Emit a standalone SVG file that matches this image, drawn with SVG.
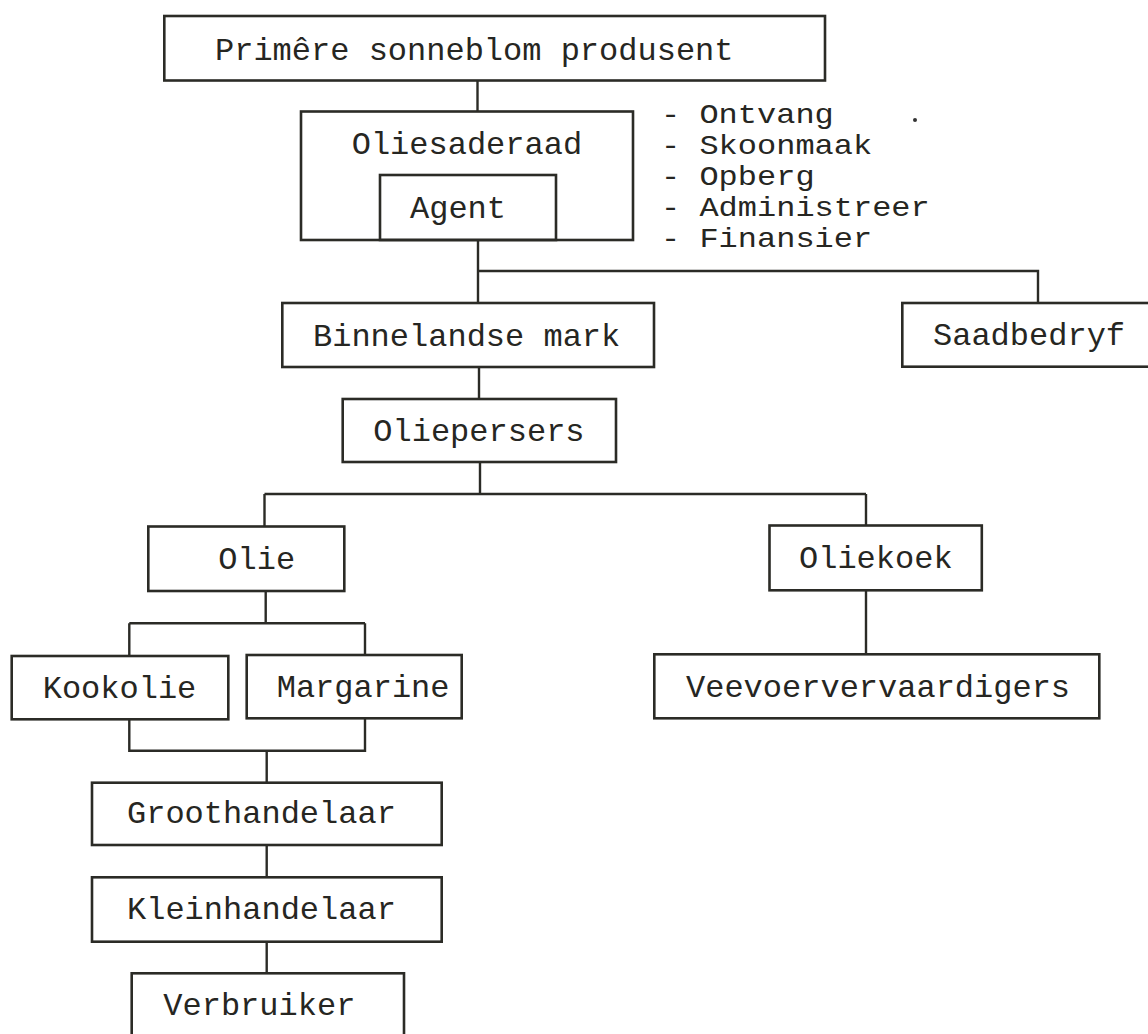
<svg xmlns="http://www.w3.org/2000/svg" width="1148" height="1034" viewBox="0 0 1148 1034">
<style>
.box{fill:none;stroke:#2b2b26;stroke-width:2.6}
.ln{fill:none;stroke:#2b2b26;stroke-width:2.4}
text{font-family:"Liberation Mono","Courier New",monospace;font-size:32px;fill:#262622}
</style>
<rect width="1148" height="1034" fill="#ffffff"/>
<g id="connectors">
<path class="ln" d="M477.5,80 V112"/>
<path class="ln" d="M478,240 V303 M478,271 H1038 V303"/>
<path class="ln" d="M479,367 V399"/>
<path class="ln" d="M480,462 V494 M264.5,494 H866 M264.5,494 V526.5 M866,494 V525.5"/>
<path class="ln" d="M265.7,591 V623.3 M129.3,623.3 H365 M129.3,623.3 V656 M365,623.3 V655"/>
<path class="ln" d="M129.3,719.3 V750.7 H365 V718.3 M266.7,750.7 V782.7"/>
<path class="ln" d="M866,590.3 V654.3"/>
<path class="ln" d="M266.7,845 V877.3"/>
<path class="ln" d="M266.7,941.7 V973.3"/>
</g>
<g id="n-produsent">
<rect class="box" x="164.3" y="16" width="660.7" height="64.5"/>
<text x="215" y="60">Primêre sonneblom produsent</text>
</g>
<g id="n-oliesaderaad">
<rect class="box" x="301" y="111.5" width="332" height="128.5"/>
<text x="351.7" y="154">Oliesaderaad</text>
</g>
<g id="n-agent">
<rect class="box" x="380" y="175" width="176" height="65"/>
<text x="410" y="218">Agent</text>
</g>
<g id="n-funksies">
<text transform="translate(661,123) scale(1,0.85)">- Ontvang</text>
<text transform="translate(661,154) scale(1,0.85)">- Skoonmaak</text>
<text transform="translate(661,185) scale(1,0.85)">- Opberg</text>
<text transform="translate(661,216) scale(1,0.85)">- Administreer</text>
<text transform="translate(661,247) scale(1,0.85)">- Finansier</text>
<circle cx="915" cy="120" r="2" fill="#333"/>
</g>
<g id="n-binnelandse">
<rect class="box" x="282.3" y="303" width="371.7" height="64"/>
<text x="313" y="346">Binnelandse mark</text>
</g>
<g id="n-saadbedryf">
<rect class="box" x="902.3" y="303" width="260" height="63.7"/>
<text x="933" y="345">Saadbedryf</text>
</g>
<g id="n-oliepersers">
<rect class="box" x="342.7" y="399" width="273.3" height="63"/>
<text x="373.3" y="441">Oliepersers</text>
</g>
<g id="n-olie">
<rect class="box" x="148.3" y="526.5" width="196" height="64.5"/>
<text x="218.3" y="569.3">Olie</text>
</g>
<g id="n-oliekoek">
<rect class="box" x="769.5" y="525.5" width="212.3" height="64.8"/>
<text x="799" y="568">Oliekoek</text>
</g>
<g id="n-kookolie">
<rect class="box" x="11.7" y="656" width="216.6" height="63.3"/>
<text x="42.7" y="698.3">Kookolie</text>
</g>
<g id="n-margarine">
<rect class="box" x="246.7" y="655" width="215" height="63.3"/>
<text x="276.7" y="697.3">Margarine</text>
</g>
<g id="n-veevoer">
<rect class="box" x="654.3" y="654.3" width="445" height="64"/>
<text x="686" y="697">Veevoervervaardigers</text>
</g>
<g id="n-groothandelaar">
<rect class="box" x="92" y="782.7" width="349.7" height="62.3"/>
<text x="127" y="823.3">Groothandelaar</text>
</g>
<g id="n-kleinhandelaar">
<rect class="box" x="92" y="877.3" width="349.7" height="64.4"/>
<text x="127" y="919.3">Kleinhandelaar</text>
</g>
<g id="n-verbruiker">
<rect class="box" x="131.7" y="973.3" width="272.3" height="70"/>
<text x="163.3" y="1015">Verbruiker</text>
</g>
</svg>
